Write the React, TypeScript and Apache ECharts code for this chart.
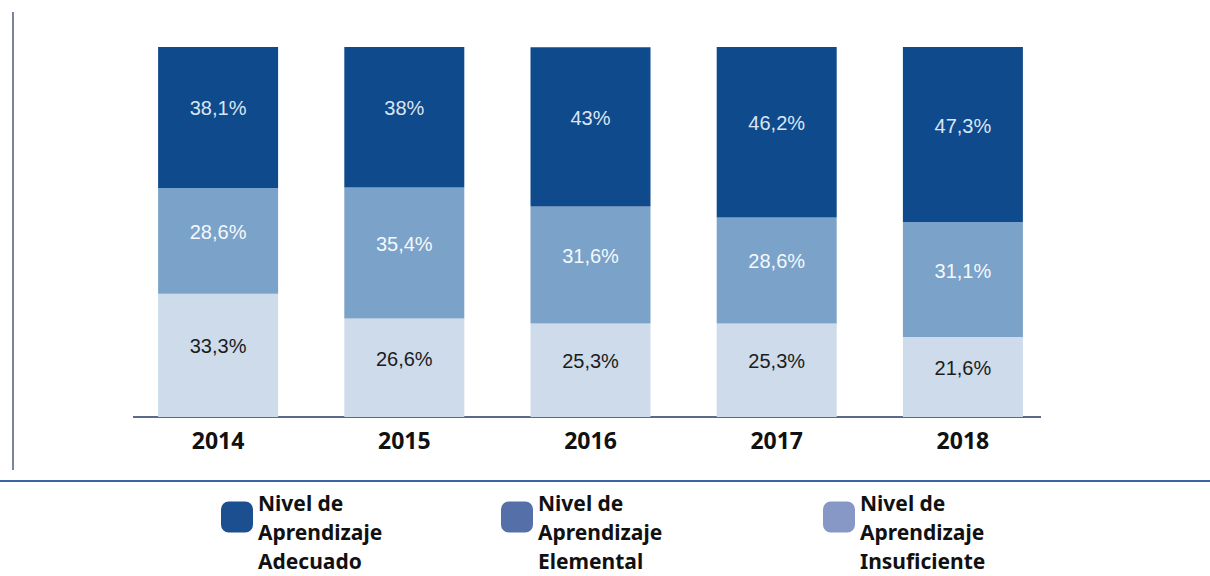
import React, { useEffect, useRef } from "react";
import * as echarts from "echarts";

const years = ["2014", "2015", "2016", "2017", "2018"];
const insuficiente = [33.3, 26.6, 25.3, 25.3, 21.6];
const elemental = [28.6, 35.4, 31.6, 28.6, 31.1];
const adecuado = [38.1, 38, 43, 46.2, 47.3];

const seriesNames = [
  "Nivel de\nAprendizaje\nAdecuado",
  "Nivel de\nAprendizaje\nElemental",
  "Nivel de\nAprendizaje\nInsuficiente",
];
const barColors = ["#0f4a8c", "#7ba2c8", "#cddbea"];
const legendColors = ["#1b4f90", "#556fa9", "#8797c6"];
const labelColors = ["#dbe5f3", "#f5f8fc", "#1c1c1c"];

const fmt = (p: any) => String(p.value).replace(".", ",") + "%";

export default function App() {
  const ref = useRef<HTMLDivElement>(null);
  useEffect(() => {
    document.body.style.margin = "0";
    const chart = echarts.init(ref.current!, null, { renderer: "svg" });
    const mkSeries = (name: string, data: number[], idx: number) => ({
      name,
      type: "bar",
      stack: "total",
      data,
      barWidth: 120,
      itemStyle: { color: barColors[idx] },
      label: {
        show: true,
        position: "inside",
        offset: [0, -9],
        formatter: fmt,
        color: labelColors[idx],
        fontFamily: "Liberation Sans, Arial, sans-serif",
        fontSize: 20,
      },
    });
    const legendText = {
      fontFamily: "Noto Sans",
      fontWeight: "bold",
      fontSize: 21,
      lineHeight: 29,
      color: "#111111",
    };
    const lefts = [221, 501, 823];
    chart.setOption({
      animation: false,
      backgroundColor: "#ffffff",
      grid: { left: 125, right: 154, top: 47, bottom: 159, containLabel: false },
      xAxis: {
        type: "category",
        data: years,
        axisLine: { show: false },
        axisTick: { show: false },
        axisLabel: {
          color: "#111111",
          fontFamily: "Noto Sans",
          fontWeight: "bold",
          fontSize: 23,
          margin: 11,
        },
      },
      yAxis: {
        type: "value",
        min: 0,
        max: 100,
        show: false,
        splitLine: { show: false },
      },
      legend: seriesNames.map((n, i) => ({
        data: [{ name: n, itemStyle: { color: legendColors[i] } }],
        left: lefts[i],
        top: 459,
        padding: 0,
        orient: "horizontal",
        icon: "roundRect",
        itemWidth: 32,
        itemHeight: 31,
        itemGap: 8,
        selectedMode: false,
        formatter: (name: string) => "\n" + name,
        textStyle: legendText,
      })),
      graphic: [
        {
          type: "line",
          shape: { x1: 133, y1: 417, x2: 1041, y2: 417 },
          style: { stroke: "#5b6a8a", lineWidth: 2 },
        },
        {
          type: "line",
          shape: { x1: 13, y1: 12, x2: 13, y2: 470 },
          style: { stroke: "#4d5b7c", lineWidth: 1.5 },
        },
        {
          type: "line",
          shape: { x1: 0, y1: 481, x2: 1210, y2: 481 },
          style: { stroke: "#3d64a6", lineWidth: 2 },
        },
      ],
      series: [
        mkSeries(seriesNames[2], insuficiente, 2),
        mkSeries(seriesNames[1], elemental, 1),
        mkSeries(seriesNames[0], adecuado, 0),
      ],
    });
    return () => chart.dispose();
  }, []);
  return <div ref={ref} style={{ width: 1210, height: 576 }} />;
}
